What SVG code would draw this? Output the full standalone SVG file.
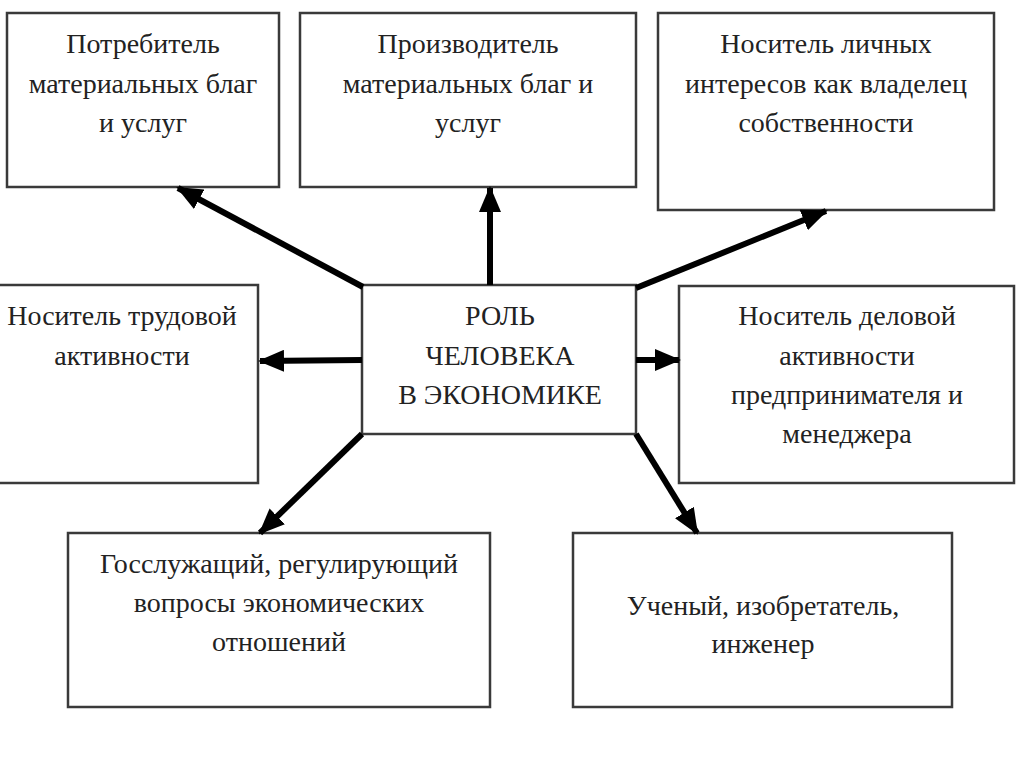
<svg xmlns="http://www.w3.org/2000/svg" width="1024" height="767" viewBox="0 0 1024 767">
<style>
.box{fill:#fff;stroke:#3a3a3a;stroke-width:2.5}
.t{font-family:"Liberation Serif","Times New Roman",serif;font-size:28px;fill:#222;text-anchor:middle}
.c{stroke:#000;stroke-width:6;fill:none}
</style>
<defs>
<marker id="ah" markerUnits="userSpaceOnUse" markerWidth="26" markerHeight="22" refX="24" refY="11" orient="auto">
<path d="M0,0 L26,11 L0,22 z" fill="#000"/>
</marker>
</defs>
<rect width="1024" height="767" fill="#fff"/>
<g id="n1"><rect class="box" x="7" y="13" width="272" height="174"/>
<text class="t" x="143" y="53">Потребитель</text><text class="t" x="143" y="93">материальных благ</text><text class="t" x="143" y="132">и услуг</text></g>
<g id="n2"><rect class="box" x="300" y="13" width="336" height="174"/>
<text class="t" x="468" y="53">Производитель</text><text class="t" x="468" y="93">материальных благ и</text><text class="t" x="468" y="132">услуг</text></g>
<g id="n3"><rect class="box" x="658" y="13" width="336" height="197"/>
<text class="t" x="826" y="53">Носитель личных</text><text class="t" x="826" y="93">интересов как владелец</text><text class="t" x="826" y="132">собственности</text></g>
<g id="center"><rect class="box" x="362" y="285" width="274" height="149"/>
<text class="t" x="500" y="325">РОЛЬ</text><text class="t" x="500" y="365">ЧЕЛОВЕКА</text><text class="t" x="500" y="404">В ЭКОНОМИКЕ</text></g>
<g id="n4"><rect class="box" x="-2" y="285" width="260" height="198"/>
<text class="t" x="122" y="325">Носитель трудовой</text><text class="t" x="122" y="365">активности</text></g>
<g id="n5"><rect class="box" x="679" y="286" width="335" height="197"/>
<text class="t" x="847" y="325">Носитель деловой</text><text class="t" x="847" y="365">активности</text><text class="t" x="847" y="404">предпринимателя и</text><text class="t" x="847" y="443">менеджера</text></g>
<g id="n6"><rect class="box" x="68" y="533" width="422" height="174"/>
<text class="t" x="279" y="573">Госслужащий, регулирующий</text><text class="t" x="279" y="612">вопросы экономических</text><text class="t" x="279" y="651">отношений</text></g>
<g id="n7"><rect class="box" x="573" y="533" width="379" height="174"/>
<text class="t" x="763" y="615">Ученый, изобретатель,</text><text class="t" x="763" y="653">инженер</text></g>
<g id="connectors">
<line class="c" x1="363" y1="287" x2="178" y2="188" marker-end="url(#ah)"/>
<line class="c" x1="490" y1="285" x2="490" y2="188" marker-end="url(#ah)"/>
<line class="c" x1="636" y1="288" x2="826" y2="211" marker-end="url(#ah)"/>
<line class="c" x1="362" y1="360" x2="260" y2="361" marker-end="url(#ah)"/>
<line class="c" x1="636" y1="360" x2="679" y2="360" marker-end="url(#ah)"/>
<line class="c" x1="362" y1="434" x2="260" y2="533" marker-end="url(#ah)"/>
<line class="c" x1="636" y1="434" x2="697" y2="533" marker-end="url(#ah)"/>
</g>
</svg>
